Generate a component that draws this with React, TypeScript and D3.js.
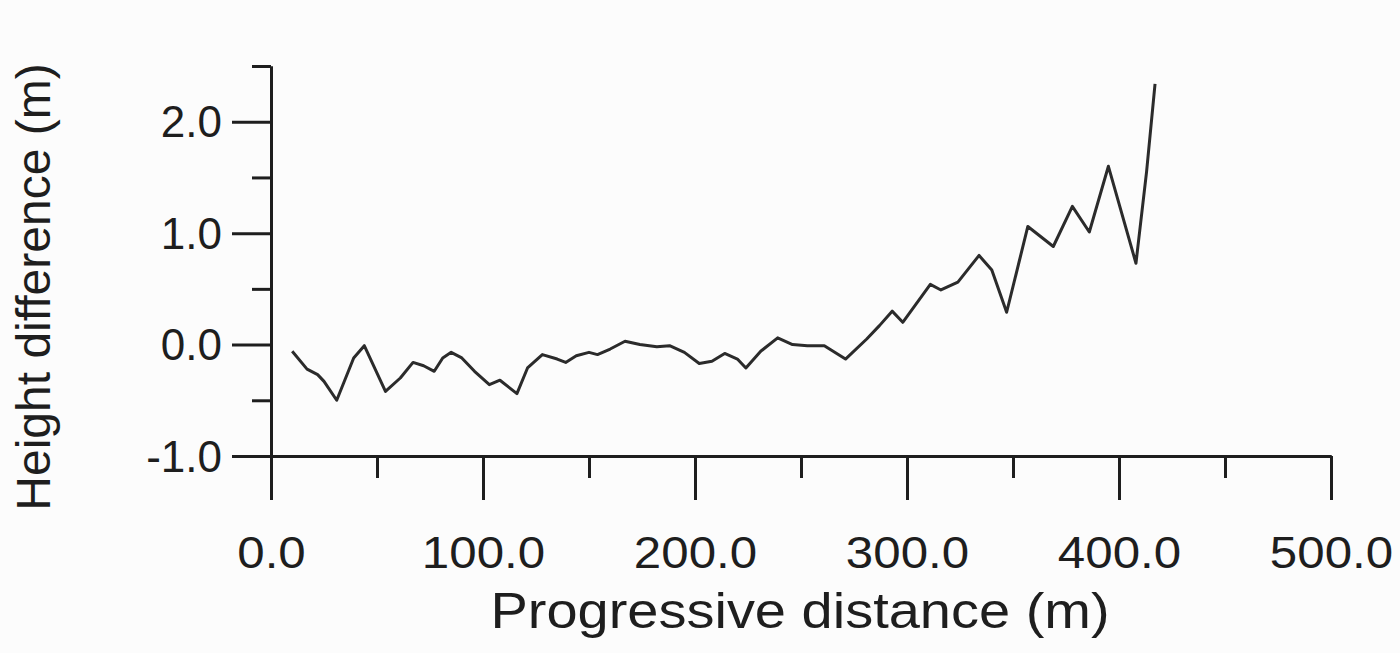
import React, { useEffect, useRef } from 'react';
import * as d3 from 'd3';

const distance = [10, 17, 22, 25, 31, 39, 44, 54, 61, 67, 72, 77, 81, 85, 90, 96, 103, 108, 116, 121, 128, 135, 139, 144, 150, 154, 160, 167, 174, 182, 188, 195, 202, 208, 214, 220, 224, 231, 239, 246, 253, 261, 271, 281, 287, 293, 298, 311, 316, 324, 334, 340, 347, 357, 369, 378, 386, 395, 408, 413, 417];
const heightDiff = [-0.06, -0.22, -0.27, -0.33, -0.5, -0.12, -0.01, -0.42, -0.3, -0.16, -0.19, -0.24, -0.12, -0.07, -0.12, -0.24, -0.36, -0.32, -0.44, -0.21, -0.09, -0.13, -0.16, -0.1, -0.07, -0.09, -0.04, 0.03, 0.0, -0.02, -0.01, -0.07, -0.17, -0.15, -0.08, -0.13, -0.21, -0.06, 0.06, 0.0, -0.01, -0.01, -0.13, 0.05, 0.17, 0.3, 0.2, 0.54, 0.49, 0.56, 0.8, 0.67, 0.29, 1.06, 0.88, 1.24, 1.01, 1.6, 0.73, 1.55, 2.34];

const xMajorTicks = [0, 100, 200, 300, 400, 500];
const xMinorTicks = [50, 150, 250, 350, 450];
const yMajorTicks = [-1, 0, 1, 2];
const yMinorTicks = [-0.5, 0.5, 1.5, 2.5];
const xTitle = 'Progressive distance (m)';
const yTitle = 'Height difference (m)';

const W = 1400;
const H = 653;
const FONT = '"Liberation Sans", Arial, sans-serif';
const INK = '#1e1e1e';

export default function App() {
  const ref = useRef<SVGSVGElement>(null);
  const x = d3.scaleLinear().domain([0, 500]).range([271, 1331]);
  const y = d3.scaleLinear().domain([-1, 2.5]).range([456, 66]);
  const pts = distance.map((d, i) => [d, heightDiff[i]] as [number, number]);
  const line = d3
    .line<[number, number]>()
    .x((d) => x(d[0]))
    .y((d) => y(d[1]));

  useEffect(() => {
    const svg = d3.select(ref.current);
    svg.selectAll('g.axes').remove();
    const g = svg.insert('g', 'path.series').attr('class', 'axes');
    const fmt = (d: any) => (+d).toFixed(1);

    g.append('g')
      .attr('transform', `translate(0,${y(-1)})`)
      .call(d3.axisBottom(x).tickValues(xMinorTicks).tickSize(22).tickSizeOuter(0).tickFormat(() => ''));
    const xa = g
      .append('g')
      .attr('transform', `translate(0,${y(-1)})`)
      .call(d3.axisBottom(x).tickValues(xMajorTicks).tickSize(44).tickSizeOuter(0).tickFormat(fmt));
    xa.selectAll('text').attr('y', 112).attr('dy', 0).attr('transform', 'scale(1.12,1)');

    g.append('g')
      .attr('transform', `translate(${x(0)},0)`)
      .call(d3.axisLeft(y).tickValues(yMinorTicks).tickSize(19).tickSizeOuter(0).tickFormat(() => ''));
    const ya = g
      .append('g')
      .attr('transform', `translate(${x(0)},0)`)
      .call(d3.axisLeft(y).tickValues(yMajorTicks).tickSize(39).tickSizeOuter(0).tickFormat(fmt));
    ya.selectAll('text').attr('x', -49).attr('dy', 15);

    g.selectAll('path.domain, line').attr('stroke', INK).attr('stroke-width', 3);
    g.selectAll('text').attr('font-family', FONT).attr('font-size', 44).attr('fill', INK);
  }, []);

  return (
    <svg
      ref={ref}
      width={W}
      height={H}
      style={{ position: 'absolute', left: 0, top: 0, background: '#fcfcfc' }}
    >
      <rect width={W} height={H} fill="#fcfcfc" />
      <path
        className="series"
        d={line(pts) || ''}
        fill="none"
        stroke="#2b2b2b"
        strokeWidth={3}
        strokeLinejoin="round"
      />
      <text
        transform={`translate(800,628) scale(1.12,1)`}
        textAnchor="middle"
        fontFamily={FONT}
        fontSize={50}
        fill={INK}
      >
        {xTitle}
      </text>
      <text
        transform={`translate(50,287) rotate(-90)`}
        textAnchor="middle"
        fontFamily={FONT}
        fontSize={48}
        fill={INK}
      >
        {yTitle}
      </text>
    </svg>
  );
}
